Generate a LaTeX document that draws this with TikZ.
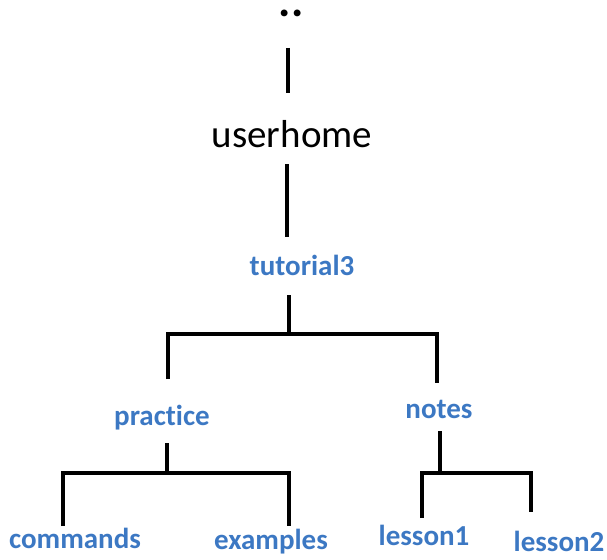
\documentclass[tikz,border=0pt]{standalone}
\usepackage{fontspec}
\setmainfont{Carlito}[Ligatures=CommonOff]
\definecolor{dirblue}{RGB}{60,120,195}
\begin{document}
\begin{tikzpicture}[x=1pt,y=-1pt,
  lbl/.style={inner sep=0pt,anchor=base},
  top/.style={lbl,font=\fontsize{39}{39}\selectfont,text=black},
  dir/.style={lbl,font=\fontsize{29}{29}\selectfont\bfseries,text=dirblue},
  branch/.style={draw=black,line width=3.2pt}]
\useasboundingbox (0,0) rectangle (607,559);
% labels
\node[top,font=\fontsize{46}{46}\selectfont\bfseries,text height=9pt,text depth=0pt] (dots) at (291,17) {..};
\node[top] (userhome) at (292,147) {userhome};
\node[dir] (tutorial) at (302,275) {tutorial3};
\node[dir] (practice) at (162,425) {practice};
\node[dir] (notes) at (439,418) {notes};
\node[dir] (commands) at (75,548) {commands};
\node[dir] (examples) at (271,549) {examples};
\node[dir] (lessonA) at (424,545) {lesson1};
\node[dir] (lessonB) at (559,551) {lesson2};
% junction coordinates
\coordinate (d1) at (288,48);  \coordinate (d2) at (288,93);
\coordinate (u1) at (287,164); \coordinate (u2) at (287,237);
\coordinate (t1) at (289,295); \coordinate (t2) at (289,334);
\coordinate (tl) at (168,334); \coordinate (tla) at (168,379);
\coordinate (tr) at (437,334); \coordinate (tra) at (437,383);
\coordinate (p1) at (167,443); \coordinate (p2) at (167,473);
\coordinate (pl) at (63,473);  \coordinate (pla) at (63,526);
\coordinate (pr) at (289,473); \coordinate (pra) at (289,526);
\coordinate (n1) at (440,431); \coordinate (n2) at (440,473);
\coordinate (nl) at (422,473); \coordinate (nla) at (422,518);
\coordinate (nr) at (531,473); \coordinate (nra) at (531,512);
% connectors
\draw[branch] (d1) -- (d2);
\draw[branch] (u1) -- (u2);
\draw[branch] (t1) -- (t2);
\draw[branch] (tla) -- (tl) -- (tr) -- (tra);
\draw[branch] (p1) -- (p2);
\draw[branch] (pla) -- (pl) -- (pr) -- (pra);
\draw[branch] (n1) -- (n2);
\draw[branch] (nla) -- (nl) -- (nr) -- (nra);
\end{tikzpicture}
\end{document}
